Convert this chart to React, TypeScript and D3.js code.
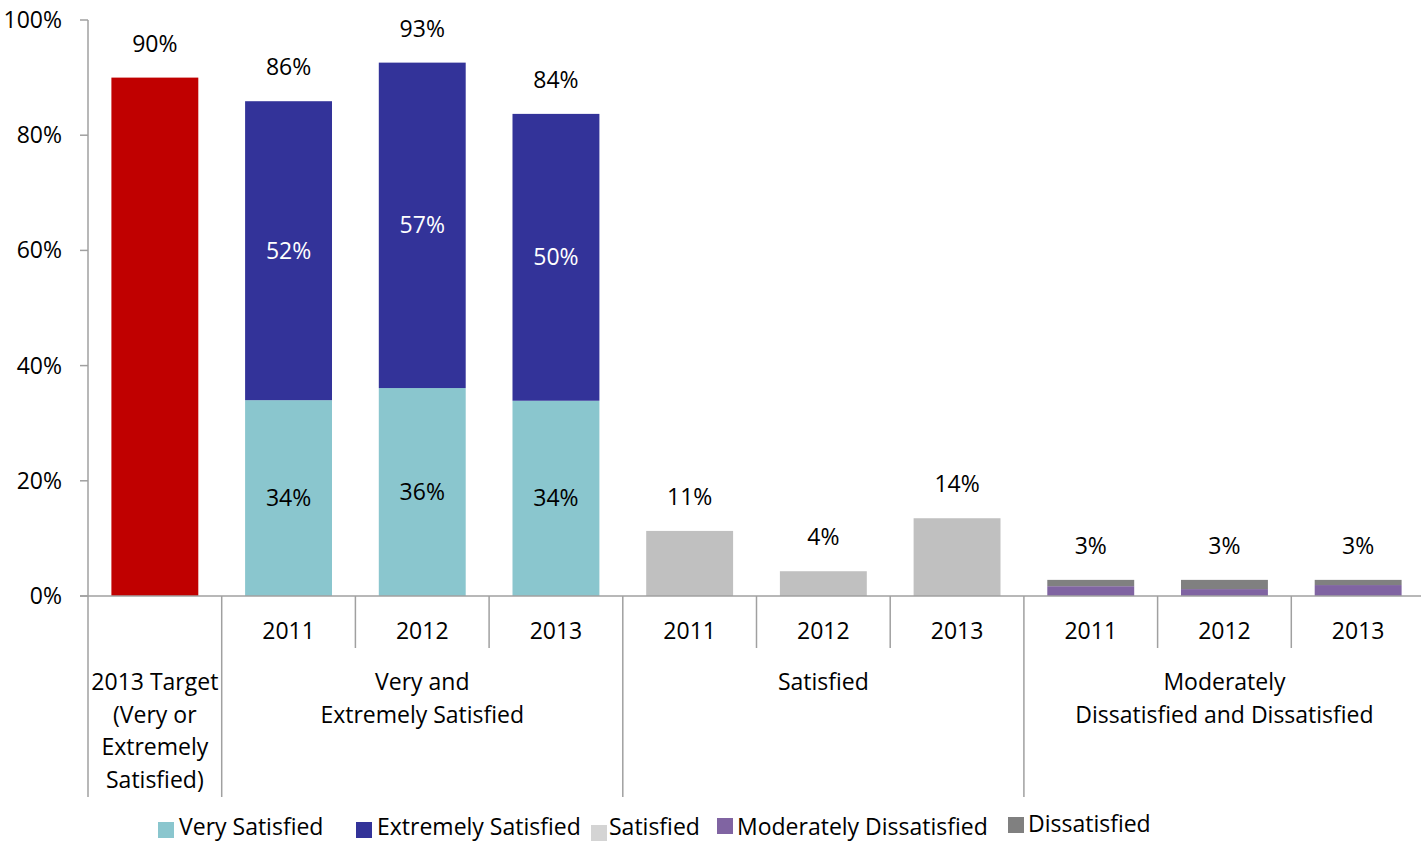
import React from 'react';
import * as d3 from 'd3';

// chart values
const years = ['2011', '2012', '2013'];
const targetLabel = ['2013 Target', '(Very or', 'Extremely', 'Satisfied)'];
const groupLabels = [
  ['Very and', 'Extremely Satisfied'],
  ['Satisfied'],
  ['Moderately', 'Dissatisfied and Dissatisfied'],
];
const targetValue = 90;
const verySatisfied = [34.0, 36.1, 33.9];
const extremelySatisfied = [51.9, 56.5, 49.8];
const satisfied = [11.3, 4.3, 13.5];
const moderatelyDissatisfied = [1.7, 1.2, 1.9];
const dissatisfied = [1.1, 1.6, 0.9];
const yTicks = [0, 20, 40, 60, 80, 100];

const legendItems = [
  { name: 'Very Satisfied', color: '#8AC6CE' },
  { name: 'Extremely Satisfied', color: '#333399' },
  { name: 'Satisfied', color: '#D4D4D4' },
  { name: 'Moderately Dissatisfied', color: '#8064A2' },
  { name: 'Dissatisfied', color: '#808080' },
];

const WIDTH = 1421;
const HEIGHT = 841;
const margin = { top: 20, right: -4, bottom: 245, left: 88 };
const font = '"Open Sans", sans-serif';
const axisColor = '#A0A0A0';

export default function App() {
  // one slot for target + 3 years in each of the three groups
  const slots = d3.range(1 + years.length * 3).map(String);
  const x = d3.scaleBand()
    .domain(slots)
    .range([margin.left, WIDTH - margin.right])
    .paddingInner(0.35)
    .paddingOuter(0.175);
  const y = d3.scaleLinear()
    .domain([0, 100])
    .range([HEIGHT - margin.bottom, margin.top]);
  const baseY = y(0);
  const step = x.step();
  const bw = x.bandwidth();

  // stacked segments per slot
  type Seg = { v: number; color: string; inside: boolean };
  const stacks: Seg[][] = [[{ v: targetValue, color: '#C00000', inside: false }]];
  years.forEach((_, i) => stacks.push([
    { v: verySatisfied[i], color: legendItems[0].color, inside: true },
    { v: extremelySatisfied[i], color: legendItems[1].color, inside: true },
  ]));
  years.forEach((_, i) => stacks.push([{ v: satisfied[i], color: '#C0C0C0', inside: false }]));
  years.forEach((_, i) => stacks.push([
    { v: moderatelyDissatisfied[i], color: legendItems[3].color, inside: false },
    { v: dissatisfied[i], color: legendItems[4].color, inside: false },
  ]));

  const bars: JSX.Element[] = [];
  const labels: JSX.Element[] = [];
  stacks.forEach((segs, si) => {
    const x0 = x(String(si))!;
    let acc = 0;
    segs.forEach((s, k) => {
      const yTop = y(acc + s.v);
      const yBot = y(acc);
      bars.push(<rect key={`b${si}-${k}`} x={x0} y={yTop} width={bw} height={yBot - yTop} fill={s.color} />);
      if (s.inside) {
        labels.push(
          <text key={`l${si}-${k}`} x={x0 + bw / 2} y={(yTop + yBot) / 2} dy="0.35em"
            textAnchor="middle" fill={s.color === '#333399' ? '#fff' : '#000'}>
            {Math.round(s.v)}%
          </text>);
      }
      acc += s.v;
    });
    labels.push(
      <text key={`t${si}`} x={x0 + bw / 2} y={y(acc) - 34} dy="0.35em" textAnchor="middle">
        {Math.round(acc)}%
      </text>);
  });

  // category axis separators
  const sepLong = [0, 1, 4, 7, 10];
  const seps = d3.range(0, slots.length + 1).map(i => ({
    xPos: margin.left + i * step,
    long: sepLong.includes(i),
  }));
  const groupStart = [1, 4, 7];

  return (
    <svg width={WIDTH} height={HEIGHT} style={{ position: 'absolute', left: 0, top: 0 }}
      fontFamily={font} fontSize={23}>
      <rect width={WIDTH} height={HEIGHT} fill="#fff" />
      {bars}
      {/* y axis */}
      <line x1={margin.left} x2={margin.left} y1={y(100)} y2={baseY} stroke={axisColor} strokeWidth={1.5} />
      {yTicks.map(t => (
        <g key={t}>
          <line x1={margin.left - 8} x2={margin.left} y1={y(t)} y2={y(t)} stroke={axisColor} strokeWidth={1.5} />
          <text x={62} y={y(t)} dy="0.35em" textAnchor="end">{t}%</text>
        </g>
      ))}
      {/* category axis */}
      <line x1={margin.left - 8} x2={WIDTH} y1={baseY} y2={baseY} stroke={axisColor} strokeWidth={1.5} />
      {seps.map((s, i) => (
        <line key={i} x1={s.xPos} x2={s.xPos} y1={baseY} y2={s.long ? 797 : 648}
          stroke={axisColor} strokeWidth={1.5} />
      ))}
      {slots.slice(1).map((s, i) => (
        <text key={s} x={x(s)! + bw / 2} y={631} dy="0.35em" textAnchor="middle">{years[i % 3]}</text>
      ))}
      {targetLabel.map((ln, i) => (
        <text key={ln} x={x('0')! + bw / 2} y={682 + i * 32.7} dy="0.35em" textAnchor="middle">{ln}</text>
      ))}
      {groupLabels.map((lines, g) => {
        const cx = margin.left + (groupStart[g] + 1.5) * step;
        return lines.map((ln, i) => (
          <text key={`${g}-${i}`} x={cx} y={682 + i * 32.7} dy="0.35em" textAnchor="middle">{ln}</text>
        ));
      })}
      {labels}
      {/* legend */}
      <g fontSize={23}>
        {[
          { sx: 158, sy: 822, ty: 835, tx: 179 },
          { sx: 356, sy: 822, ty: 835, tx: 377 },
          { sx: 591, sy: 825, ty: 835, tx: 609 },
          { sx: 717, sy: 818, ty: 835, tx: 737 },
          { sx: 1008, sy: 817, ty: 832, tx: 1028 },
        ].map((p, i) => (
          <g key={legendItems[i].name}>
            <rect x={p.sx} y={p.sy} width={16} height={16} fill={legendItems[i].color} />
            <text x={p.tx} y={p.ty}>{legendItems[i].name}</text>
          </g>
        ))}
      </g>
    </svg>
  );
}
